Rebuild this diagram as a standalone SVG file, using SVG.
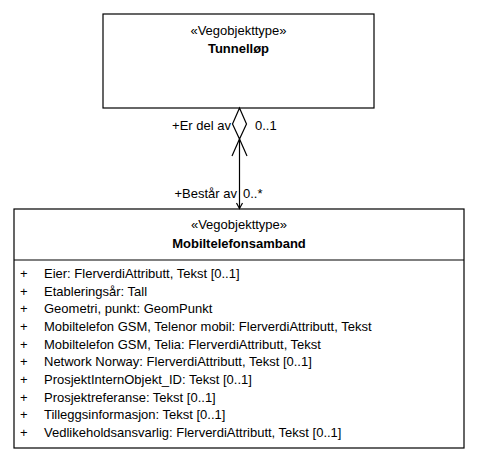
<svg xmlns="http://www.w3.org/2000/svg" width="481" height="464" viewBox="0 0 481 464">
<style>
text{font-family:"Liberation Sans",Arial,sans-serif;font-size:13px;fill:#000}
.c{text-anchor:middle}
.b{font-weight:bold}
.box{fill:#fff;stroke:#000;stroke-width:1.2}
.ln{fill:none;stroke:#000;stroke-width:1.2}
</style>
<rect width="481" height="464" fill="#fff"/>
<g id="tunnellop">
<rect class="box" x="103" y="14" width="271" height="94"/>
<text class="c" x="238.5" y="35">«Vegobjekttype»</text>
<text class="c b" x="238.5" y="53">Tunnelløp</text>
</g>
<g id="mobiltelefonsamband">
<rect class="box" x="14" y="209" width="450" height="239"/>
<line class="ln" x1="14" y1="260" x2="464" y2="260"/>
<text class="c" x="239" y="229">«Vegobjekttype»</text>
<text class="c b" x="239" y="248">Mobiltelefonsamband</text>
<g>
<text x="20" y="278">+</text><text x="44" y="278">Eier: FlerverdiAttributt, Tekst [0..1]</text>
<text x="20" y="295.7">+</text><text x="44" y="295.7">Etableringsår: Tall</text>
<text x="20" y="313.3">+</text><text x="44" y="313.3">Geometri, punkt: GeomPunkt</text>
<text x="20" y="331">+</text><text x="44" y="331">Mobiltelefon GSM, Telenor mobil: FlerverdiAttributt, Tekst</text>
<text x="20" y="348.7">+</text><text x="44" y="348.7">Mobiltelefon GSM, Telia: FlerverdiAttributt, Tekst</text>
<text x="20" y="366.3">+</text><text x="44" y="366.3">Network Norway: FlerverdiAttributt, Tekst [0..1]</text>
<text x="20" y="384">+</text><text x="44" y="384">ProsjektInternObjekt_ID: Tekst [0..1]</text>
<text x="20" y="401.7">+</text><text x="44" y="401.7">Prosjektreferanse: Tekst [0..1]</text>
<text x="20" y="419.3">+</text><text x="44" y="419.3">Tilleggsinformasjon: Tekst [0..1]</text>
<text x="20" y="437">+</text><text x="44" y="437">Vedlikeholdsansvarlig: FlerverdiAttributt, Tekst [0..1]</text>
</g>
</g>
<g id="connectors">
<path class="ln" d="M239.5,108 L246.5,124 L239.5,139 L232.5,124 Z"/>
<path class="ln" d="M232,156 L239.5,139 L247,156"/>
<line class="ln" x1="239.5" y1="139" x2="239.5" y2="208"/>
<path class="ln" d="M236.5,203 L239.5,208.5 L242.5,203"/>
<text x="231" y="130" text-anchor="end">+Er del av</text>
<text x="255" y="130">0..1</text>
<text x="237" y="198" text-anchor="end">+Består av</text>
<text x="243" y="198">0..*</text>
</g>
</svg>
